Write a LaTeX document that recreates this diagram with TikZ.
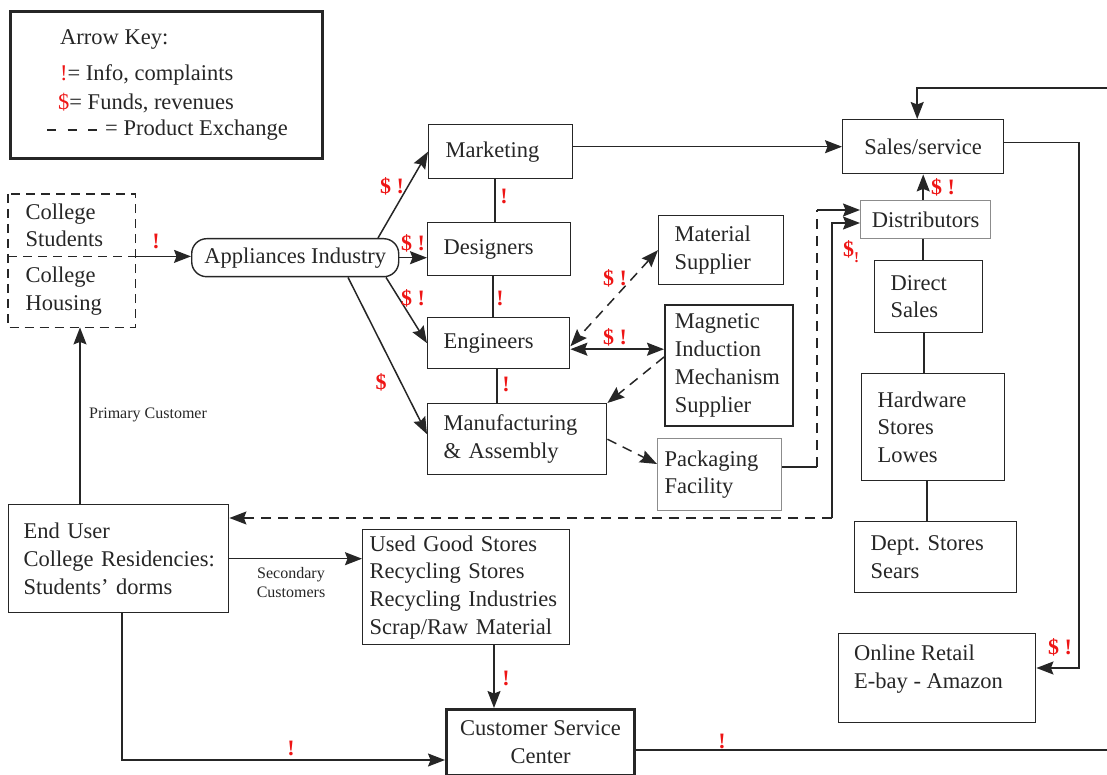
\documentclass[tikz,border=0pt]{standalone}
\usepackage{fontspec}
\setmainfont{Liberation Serif}
\usetikzlibrary{arrows.meta,calc}
\definecolor{ink}{HTML}{262626}
\definecolor{alert}{HTML}{EE1515}
\frenchspacing

\begin{document}
\begin{tikzpicture}[x=1pt,y=-1pt,
  every node/.style={font=\fontsize{22.5}{27.7}\selectfont, text=ink},
  bx/.style={draw=ink, line width=1.4pt, align=left, inner ysep=0pt, anchor=north west},
  gbx/.style={bx, draw=black!45},
  wire/.style={draw=ink, line width=1.5pt},
  prod/.style={dash pattern=on 10pt off 7pt},
  tag/.style={text=alert, font=\fontsize{22}{22}\selectfont\bfseries, inner sep=0pt},
  note/.style={font=\fontsize{16}{19}\selectfont, align=center, inner sep=0pt},
  >={Stealth[length=17pt,width=13pt,inset=2.5pt]},
]
\useasboundingbox (0,0) rectangle (1107,775);

% ---- key ----
\node[draw=ink, line width=3pt, minimum width=312pt, minimum height=147pt,
      anchor=north west, inner sep=0pt] (key) at (9,10) {};
\node[anchor=west, inner sep=0pt] (k0) at (60,40) {Arrow Key:};
\node[anchor=west, inner sep=0pt] (k1) at (60,75) {{\color{alert}!}= Info, complaints};
\node[anchor=west, inner sep=0pt] (k2) at (58,103) {{\color{alert}\$}= Funds, revenues};
\node[anchor=west, inner sep=0pt] (k3) at (105,130) {= Product Exchange};
\draw[wire, line width=2.2pt, dash pattern=on 9pt off 11.5pt]
  ($(k3.west)+(-58,0)$) -- ($(k3.west)+(-8,0)$);

% ---- customers ----
\node[bx, draw=none, text width=92pt, inner xsep=17pt, minimum height=61pt] (cs) at (8,194) {College\\Students};
\node[bx, draw=none, text width=92pt, inner xsep=17pt, minimum height=71pt] (ch) at (8,255) {College\\Housing};
\draw[wire, dash pattern=on 9pt off 6pt] (cs.north west) rectangle (ch.south east);
\draw[wire, dash pattern=on 9pt off 6pt] (cs.south west) -- (cs.south east);

\node[draw=ink, line width=1.4pt, rounded corners=15pt, minimum width=207pt,
      minimum height=38pt, inner sep=0pt, anchor=north west] (app) at (191,238) {Appliances Industry};

% ---- company ----
\node[bx, text width=110pt, inner xsep=17pt, minimum height=54pt] (mkt) at (428,124) {Marketing};
\node[bx, text width=111pt, inner xsep=16pt, minimum height=53pt] (des) at (427,222) {Designers};
\node[bx, text width=110pt, inner xsep=16pt, minimum height=51pt] (eng) at (427,317) {Engineers};
\node[bx, text width=147pt, inner xsep=16pt, minimum height=71pt] (man) at (427,403) {Manufacturing\\\& Assembly};

% ---- suppliers ----
\node[bx, text width=93pt, inner xsep=16pt, minimum height=69pt] (mat) at (658,215) {Material\\Supplier};
\node[bx, line width=1.8pt, text width=108pt, inner xsep=10pt, minimum height=121pt] (mag) at (664,304) {Magnetic\\Induction\\Mechanism\\Supplier};
\node[gbx, text width=110pt, inner xsep=7pt, minimum height=72pt] (pkg) at (657,438) {Packaging\\Facility};

% ---- sales channels ----
\node[bx, align=center, inner xsep=0pt, minimum width=161pt, minimum height=54pt] (sal) at (842,119) {Sales/service};
\node[gbx, align=center, inner xsep=0pt, minimum width=130pt, minimum height=38pt] (dis) at (860,200) {Distributors};
\node[bx, text width=76pt, inner xsep=16pt, minimum height=72pt] (dir) at (874,260) {Direct\\Sales};
\node[bx, text width=111pt, inner xsep=16pt, minimum height=107pt] (hw) at (861,373) {Hardware\\Stores\\Lowes};
\node[bx, text width=130pt, inner xsep=16pt, minimum height=71pt] (dep) at (854,521) {Dept. Stores\\Sears};
\node[bx, minimum width=197pt, minimum height=89pt, inner sep=0pt] (onl) at (838,633) {};
\node[anchor=west, align=left, inner sep=0pt] (onltext) at (854,669) {Online Retail\\E-bay - Amazon};

% ---- end of life ----
\node[bx, text width=190pt, inner xsep=15pt, minimum height=108pt] (eu) at (8,504) {End User\\\mbox{College Residencies:}\\Students’ dorms};
\node[bx, text width=193pt, inner xsep=7pt, minimum height=115pt] (ug) at (362,529) {Used Good Stores\\Recycling Stores\\Recycling Industries\\Scrap/Raw Material};
\node[bx, line width=3pt, align=center, inner xsep=0pt, minimum width=188pt, minimum height=66pt] (csc) at (445,708) {Customer Service\\Center};

% ---- connectors: industry ----
\draw[wire, ->] (cs.south east) -- (cs.south east -| app.west);
\draw[wire, ->] ($(app.north west)+(187,0)$) -- (mkt.west);
\draw[wire, ->] (app.east) -- (app.east -| des.west);
\draw[wire, ->] ($(app.south west)+(195,0)$) -- (eng.west);
\draw[wire, ->] ($(app.south west)+(157,0)$) -- ($(man.west)+(0,-5)$);

\coordinate (md) at ($(mkt.south west)+(67,0)$);
\draw[wire] (md) -- (md |- des.north);
\coordinate (de) at ($(des.south west)+(66,0)$);
\draw[wire] (de) -- (de |- eng.north);
\coordinate (em) at ($(eng.south west)+(70,0)$);
\draw[wire] (em) -- (em |- man.north);

% ---- connectors: suppliers ----
\draw[wire, prod, <->] (mat.west) -- ($(eng.east)+(0,3)$);
\coordinate (eg) at ($(eng.east)+(0,6)$);
\draw[wire, <->] (eg) -- (eg -| mag.west);
\draw[wire, prod, ->] ($(mag.north west)+(0,53)$) -- (man.north east);
\draw[wire, prod, ->] (man.east) -- ($(pkg.north west)+(0,26)$);

% ---- connectors: distribution ----
\coordinate (xv) at (817,0);
\coordinate (xs) at (832,0);
\coordinate (pk) at ($(pkg.north east)+(0,29)$);
\coordinate (dtop) at ($(dis.north west)+(0,10)$);
\coordinate (dlow) at ($(dis.north west)+(0,23)$);
\coordinate (eutop) at ($(eu.north east)+(0,14)$);
\draw[wire] (pk) -- (pk -| xv);
\draw[wire, prod] (pk -| xv) -- (dtop -| xv);
\draw[wire, ->] (dtop -| xv) -- (dtop);
\draw[wire, ->] (eutop -| xs) -- (dlow -| xs) -- (dlow);
\draw[wire, prod, ->] (eutop -| xs) -- (eutop);

\draw[wire, ->] (mkt.east |- sal.west) -- (sal.west);
\draw[wire, ->] (dis.north -| sal.south) -- (sal.south);

\coordinate (ds) at ($(dis.south west)+(63,0)$);
\draw[wire] (ds) -- (ds |- dir.north);
\coordinate (dh) at ($(dir.south west)+(50,0)$);
\draw[wire] (dh) -- (dh |- hw.north);
\coordinate (hd) at ($(hw.south west)+(66,0)$);
\draw[wire] (hd) -- (hd |- dep.north);

\coordinate (rr) at (1079,668);
\draw[wire, ->] ($(sal.east)+(0,-4)$) -| (rr) -- (rr -| onl.east);

% ---- connectors: service loop ----
\coordinate (lb) at (1112,750);
\coordinate (lt) at (1112,88);
\coordinate (st) at ($(sal.north)+(-6,0)$);
\draw[wire, ->] ($(csc.north east)+(0,42)$) -- (lb) -- (lt) -- (st |- lt) -- (st);

% ---- connectors: end user ----
\coordinate (pc) at ($(eu.north west)+(72,0)$);
\draw[wire, ->] (pc) -- (pc |- ch.south);
\draw[wire, ->] (eu.east) -- (eu.east -| ug.west);
\coordinate (eb) at ($(eu.south west)+(114,0)$);
\coordinate (cw) at ($(csc.north west)+(0,52)$);
\draw[wire, ->] (eb) |- (cw);
\coordinate (ub) at ($(ug.south west)+(132,0)$);
\draw[wire, ->] (ub) -- (ub |- csc.north);

% ---- flow marks ----
\node[tag] (t1) at (156,241) {!};
\node[tag] (t2) at (392,186) {\$ !};
\node[tag] (t3) at (413,243) {\$ !};
\node[tag] (t4) at (413,298) {\$ !};
\node[tag] (t5) at (381,382) {\$};
\node[tag] (t6) at (504,196) {!};
\node[tag] (t7) at (500,298) {!};
\node[tag] (t8) at (506,384) {!};
\node[tag] (t9) at (615,278) {\$ !};
\node[tag] (t10) at (615,337) {\$ !};
\node[tag] (t11) at (943,187) {\$ !};
\node[tag] (t12) at (851,252) {\$\raisebox{-6pt}{\fontsize{15}{15}\selectfont !}};
\node[tag] (t13) at (1060,647) {\$ !};
\node[tag] (t14) at (506,678) {!};
\node[tag] (t15) at (291,748) {!};
\node[tag] (t16) at (722,741) {!};

\node[note] (n1) at (148,415) {Primary Customer};
\node[note] (n2) at (291,583) {Secondary\\Customers};
\end{tikzpicture}
\end{document}
